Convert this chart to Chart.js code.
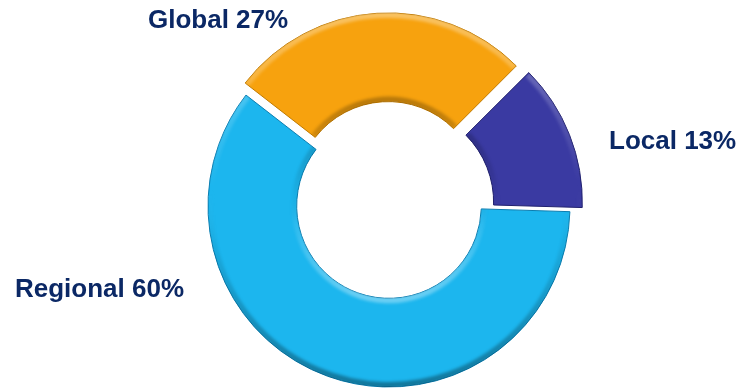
<!DOCTYPE html>
<html>
<head>
<meta charset="utf-8">
<script src="https://cdn.jsdelivr.net/npm/chart.js@4"></script>
<style>
    html, body { margin: 0; padding: 0; background: #ffffff; }
    #wrap { width: 746px; height: 389px; position: relative; }
</style>
</head>
<body>
<div id="wrap"><canvas id="ring-chart"></canvas></div>
<script>
// Chart data (clockwise, starting just past the 1:30 position)
const categories = ['Local', 'Regional', 'Global'];
const shares = [13, 60, 27];

// Colours per slice: base fill and shadow edge
const BASE_COLORS = ['#3a3aa2', '#1cb6ee', '#f7a20e'];
const EDGE_COLORS = ['#20206e', '#0a7db0', '#c07a00'];

// Which slices are pulled out of the ring
const SLICE_OFFSET = [41, 0, 48];

// Label anchor points (left edge, baseline) in canvas pixels
const LABEL_POS = {
    Local: [609, 149],
    Regional: [15, 297],
    Global: [148, 28]
};
const TEXT_COLOR = '#0b2865';

// Same shift Chart.js applies when it draws an offset arc
function arcShift(arc) {
    const o = (arc.options.offset || 0) / 4;
    const fix = 1 - Math.sin(Math.min(Math.PI, arc.circumference || 0));
    const half = (arc.startAngle + arc.endAngle) / 2;
    const t = o * (1 + fix);
    return [Math.cos(half) * t, Math.sin(half) * t];
}

// Soft, lit-from-above bevel on the inner and outer rims of each slice
const bevelPlugin = {
    id: 'bevel',
    afterDatasetsDraw(chart) {
        const ctx = chart.ctx;
        const meta = chart.getDatasetMeta(0);
        meta.data.forEach((arc) => {
            const [dx, dy] = arcShift(arc);
            const { x, y, startAngle, endAngle, innerRadius, outerRadius } = arc;
            ctx.save();
            ctx.translate(dx, dy);
            ctx.beginPath();
            ctx.arc(x, y, outerRadius, startAngle, endAngle);
            ctx.arc(x, y, innerRadius, endAngle, startAngle, true);
            ctx.closePath();
            ctx.clip();
            ctx.filter = 'blur(1.5px)';

            // outer rim: bright at the top, dark at the bottom
            let g = ctx.createLinearGradient(x, y - outerRadius, x, y + outerRadius);
            g.addColorStop(0, 'rgba(255,255,255,0.35)');
            g.addColorStop(0.45, 'rgba(255,255,255,0)');
            g.addColorStop(0.6, 'rgba(0,0,0,0.05)');
            g.addColorStop(1, 'rgba(0,0,0,0.35)');
            ctx.strokeStyle = g;
            ctx.lineWidth = 6;
            ctx.beginPath();
            ctx.arc(x, y, outerRadius - 2, startAngle, endAngle);
            ctx.stroke();

            // inner rim: dark at the top, bright at the bottom
            g = ctx.createLinearGradient(x, y - innerRadius, x, y + innerRadius);
            g.addColorStop(0, 'rgba(0,0,0,0.25)');
            g.addColorStop(0.45, 'rgba(0,0,0,0.03)');
            g.addColorStop(0.6, 'rgba(255,255,255,0.08)');
            g.addColorStop(1, 'rgba(255,255,255,0.35)');
            ctx.strokeStyle = g;
            ctx.lineWidth = 6;
            ctx.beginPath();
            ctx.arc(x, y, innerRadius + 2, startAngle, endAngle);
            ctx.stroke();
            ctx.restore();
        });
    }
};

const labelPlugin = {
    id: 'sliceLabels',
    afterDraw(chart) {
        const ctx = chart.ctx;
        ctx.save();
        ctx.fillStyle = TEXT_COLOR;
        ctx.font = 'bold 26px "Liberation Sans", Arial, sans-serif';
        ctx.textAlign = 'left';
        ctx.textBaseline = 'alphabetic';
        categories.forEach((name, i) => {
            const [x, y] = LABEL_POS[name];
            ctx.fillText(`${name} ${shares[i]}%`, x, y);
        });
        ctx.restore();
    }
};

const ctx = document.getElementById('ring-chart').getContext('2d');
new Chart(ctx, {
    type: 'doughnut',
    data: {
        labels: categories,
        datasets: [{
            data: shares,
            backgroundColor: BASE_COLORS,
            borderColor: EDGE_COLORS,
            borderWidth: 1,
            offset: SLICE_OFFSET,
            hoverOffset: 0
        }]
    },
    options: {
        responsive: true,
        maintainAspectRatio: false,
        animation: false,
        rotation: 45,
        radius: 181,
        cutout: '51%',
        layout: { padding: { left: 32, right: 0, top: 23, bottom: 0 } },
        plugins: {
            legend: { display: false },
            tooltip: { enabled: false }
        }
    },
    plugins: [bevelPlugin, labelPlugin]
});
</script>
</body>
</html>
